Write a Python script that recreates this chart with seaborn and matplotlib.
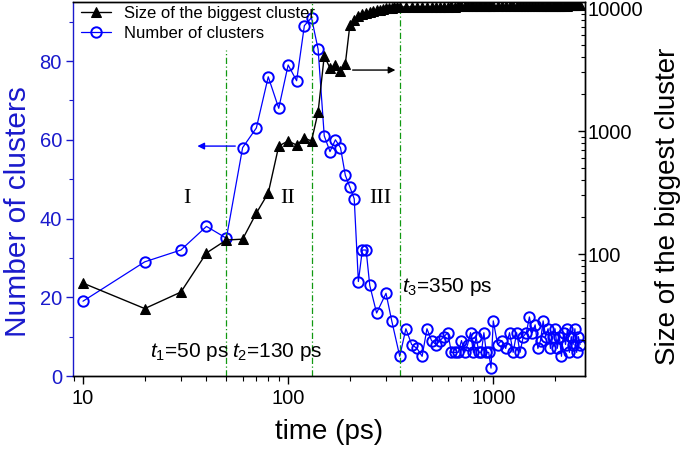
import matplotlib
matplotlib.use('Agg')
import numpy as np
import matplotlib.pyplot as plt
from matplotlib.ticker import FixedLocator, LogLocator, MultipleLocator, NullFormatter, FuncFormatter
import seaborn as sns

# ------------------------------------------------------------------
# Data
# ------------------------------------------------------------------
t_early_num = [10, 20, 30, 40, 50, 60, 70, 80, 90, 100, 110, 120, 130, 140, 150,
               160, 170, 180, 190, 200, 210, 220, 230, 240, 250, 270, 300, 320, 350]
n_early = [19, 29, 32, 38, 35, 58, 63, 76, 68, 79, 75, 89, 91, 83, 61,
           57, 60, 58, 51, 48, 45, 24, 32, 32, 23, 16, 21, 14, 5]

t_early_big = [10, 20, 30, 40, 50, 60, 70, 80, 90, 100, 110, 120, 130, 140, 150,
               160, 170, 180, 190, 200, 210, 220, 230, 240, 250, 260, 270, 280,
               290, 300, 310, 320, 330, 340, 350]
big_early = [58, 36, 49, 102, 130, 132, 215, 313, 755, 829, 769, 877, 829, 1426, 4074,
             3252, 3443, 3076, 3508, 7280, 7980, 8610, 8940, 9110, 9280, 9460, 9630, 9720,
             9810, 9910, 10000, 10060, 10120, 10160, 10190]

t_tail1 = [375, 400, 425, 450, 475, 500, 525, 550, 575, 600, 625, 650, 675, 700, 725,
           750, 775, 800, 825, 850, 875, 900, 925, 950, 975, 1000]
t_tail2 = [1050, 1100, 1150, 1200, 1250, 1300, 1350, 1400, 1450, 1500, 1550, 1600, 1650,
           1700, 1750, 1800, 1850, 1900, 1950, 2000, 2050, 2100, 2150, 2200, 2250, 2300,
           2350, 2400, 2450, 2500, 2550, 2600, 2650]

n_tail1 = [12, 8, 7, 5, 12, 9, 8, 9, 10, 11, 6, 6, 6, 9, 6,
           8, 11, 6, 10, 6, 6, 11, 6, 6, 2, 14]
n_tail2 = [8, 9, 7, 11, 6, 11, 6, 10, 11, 15, 11, 13, 7, 9, 14, 10, 12,
           7, 10, 12, 7, 10, 5, 11, 8, 12, 6, 10, 8, 12, 6, 10, 8]

big_tail1 = [10210, 10230, 10220, 10250, 10240, 10260, 10250, 10270, 10280, 10260, 10290,
             10280, 10300, 10290, 10310, 10300, 10320, 10310, 10330, 10320, 10340, 10330,
             10350, 10340, 10360, 10350]
big_tail2 = [10370, 10360, 10380, 10370, 10390, 10380, 10400, 10390, 10410, 10400, 10420,
             10410, 10430, 10420, 10440, 10430, 10450, 10440, 10460, 10450, 10470, 10460,
             10480, 10470, 10490, 10480, 10500, 10490, 10500, 10510, 10500, 10510, 10520]

t_num = t_early_num + t_tail1 + t_tail2
n_clusters = n_early + n_tail1 + n_tail2
t_big = t_early_big + t_tail1 + t_tail2
big_size = big_early + big_tail1 + big_tail2

t_marks = [50, 130, 350]

# ------------------------------------------------------------------
# Style
# ------------------------------------------------------------------
sns.set_style('ticks')
plt.rcParams['font.family'] = ['Liberation Sans', 'DejaVu Sans']
plt.rcParams['mathtext.fontset'] = 'custom'
plt.rcParams['mathtext.rm'] = 'Liberation Sans'
plt.rcParams['mathtext.it'] = 'Liberation Sans:italic'
for key in ['text.color', 'axes.labelcolor', 'xtick.color', 'ytick.color', 'axes.edgecolor']:
    plt.rcParams[key] = 'black'

blue = '#0000ff'
blue_txt = '#1a1acc'
green = '#119911'

fig = plt.figure(figsize=(6.85, 4.5), dpi=100)
ax = fig.add_axes([73 / 685, 74 / 450, 512 / 685, 374 / 450])
ax2 = ax.twinx()

sns.lineplot(x=t_num, y=n_clusters, ax=ax, color=blue, marker='o', markersize=7.5,
             markerfacecolor='none', markeredgecolor=blue, markeredgewidth=1.4,
             linewidth=0.9, estimator=None, sort=False, legend=False,
             label='Number of clusters')
sns.lineplot(x=t_big, y=big_size, ax=ax2, color='black', marker='^', markersize=7,
             markerfacecolor='black', markeredgecolor='black', linewidth=1.0,
             estimator=None, sort=False, legend=False,
             label='Size of the biggest cluster')

# axes
ax.set_xscale('log')
ax.set_xlim(8.94, 2800)
ax.set_ylim(0, 95)
ax2.set_yscale('log')
ax2.set_ylim(10.19, 11190)

ax.xaxis.set_major_locator(FixedLocator([10, 100, 1000]))
ax.xaxis.set_major_formatter(FuncFormatter(lambda v, p: f'{v:.0f}'))
ax.xaxis.set_minor_locator(LogLocator(base=10, subs=np.arange(2, 10)))
ax.xaxis.set_minor_formatter(NullFormatter())
ax.yaxis.set_major_locator(MultipleLocator(20))
ax.yaxis.set_minor_locator(MultipleLocator(10))

ax2.yaxis.set_major_locator(FixedLocator([100, 1000, 10000]))
ax2.yaxis.set_major_formatter(FuncFormatter(lambda v, p: f'{v:.0f}'))
ax2.yaxis.set_minor_locator(LogLocator(base=10, subs=np.arange(2, 10)))
ax2.yaxis.set_minor_formatter(NullFormatter())

ax.tick_params(axis='x', which='major', direction='out', length=6, width=1, labelsize=14.5, pad=3)
ax.tick_params(axis='x', which='minor', direction='out', length=3.5, width=0.8)
ax.tick_params(axis='y', which='major', direction='out', length=5, width=1,
               colors=blue_txt, labelsize=14.5, pad=3)
ax.tick_params(axis='y', which='minor', direction='out', length=3, width=0.8, colors=blue_txt)
ax2.tick_params(axis='y', which='major', direction='in', length=5, width=1,
                labelsize=14.5, pad=2)
ax2.tick_params(axis='y', which='minor', direction='in', length=3, width=0.8)

for sp in ax.spines.values():
    sp.set_linewidth(1.0)
for sp in ax2.spines.values():
    sp.set_linewidth(1.0)
ax.spines['left'].set_color(blue_txt)
ax2.spines['left'].set_visible(False)

ax.set_xlabel('time (ps)', fontsize=20)
ax.xaxis.set_label_coords(0.5, -0.115)
ax.set_ylabel('Number of clusters', fontsize=21.5, color=blue_txt)
ax.yaxis.set_label_coords(-0.08, 0.44)
ax2.set_ylabel('Size of the biggest cluster', fontsize=20, color='black')
ax2.yaxis.set_label_coords(1.137, 0.453)

# regime boundaries
ax.axvline(t_marks[0], ymax=0.872, color=green, lw=0.9, ls=(0, (5, 2, 1, 2)))
ax.axvline(t_marks[1], color=green, lw=0.9, ls=(0, (5, 2, 1, 2)))
ax.axvline(t_marks[2], ymax=0.99, color=green, lw=0.9, ls=(0, (5, 2, 1, 2)))

# regime labels
for xx, lab in [(32, 'I'), (99, 'II'), (281, 'III')]:
    ax.text(xx, 45, lab, fontsize=16, family=['Liberation Serif', 'DejaVu Serif'],
            ha='center', va='center')

ax.text(21.2, 6.1, r'$t_1$=50 ps', fontsize=15, ha='left', va='center')
ax.text(53.4, 6.1, r'$t_2$=130 ps', fontsize=15, ha='left', va='center')
ax.text(360, 22.6, r'$t_3$=350 ps', fontsize=15, ha='left', va='center')

# arrows pointing to the relevant axis
ax.annotate('', xy=(35, 58.4), xytext=(57, 58.4),
            arrowprops=dict(arrowstyle='-|>', color=blue, lw=1, mutation_scale=10))
ax2.annotate('', xy=(344, 3130), xytext=(200, 3130),
             arrowprops=dict(arrowstyle='-|>', color='black', lw=1, mutation_scale=10))

h2, l2 = ax2.get_legend_handles_labels()
h1, l1 = ax.get_legend_handles_labels()
ax2.legend(h2 + h1, l2 + l1, loc='upper left', bbox_to_anchor=(81 / 685, 1 - 6 / 450),
           bbox_transform=fig.transFigure, frameon=False, fontsize=12,
           handlelength=1.8, handletextpad=0.75, labelspacing=0.3,
           borderaxespad=0, borderpad=0)

fig.savefig('out.png', dpi=100)
